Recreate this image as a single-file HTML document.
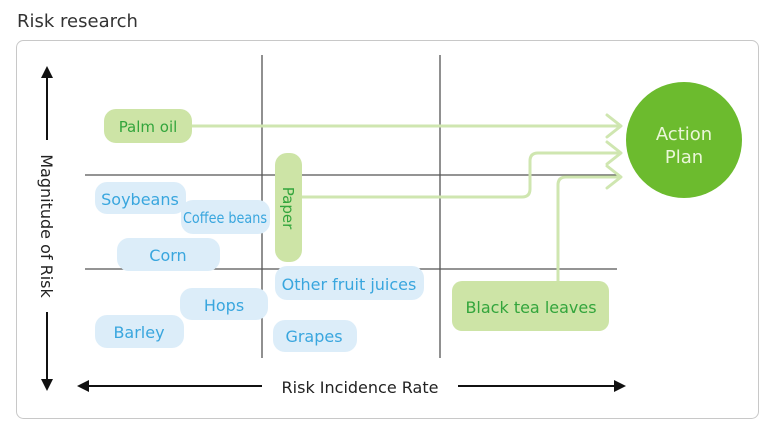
<!DOCTYPE html>
<html><head><style>body{margin:0;background:#fff}svg{display:block}</style></head><body>
<svg width="779" height="440" viewBox="0 0 779 440" xmlns="http://www.w3.org/2000/svg" font-family="'DejaVu Sans','Liberation Sans',sans-serif">
<text x="17" y="27" font-size="18" fill="#333">Risk research</text>
<rect x="16.5" y="40.5" width="742" height="378" rx="7" fill="#fff" stroke="#c8c8c8"/>
<g stroke="#555" stroke-width="1.3">
<line x1="262" y1="55" x2="262" y2="358"/><line x1="440" y1="55" x2="440" y2="358"/>
<line x1="85" y1="175" x2="617" y2="175"/><line x1="85" y1="269" x2="617" y2="269"/>
</g>
<g stroke="#cfe6b0" stroke-width="3" fill="none" stroke-linecap="round" stroke-linejoin="round">
<path d="M190 126H620"/><path d="M607 115L621 126L607 137"/>
<path d="M300 197H522Q530 197 530 189V161Q530 153 538 153H620"/><path d="M607 142L621 153L607 164"/>
<path d="M558 282V185Q558 177 566 177H620"/><path d="M607 166L621 177L607 188"/>
</g>
<circle cx="684" cy="140" r="58" fill="#6cbb2e"/>
<text x="684" y="140" font-size="18" fill="#eaf6d8" text-anchor="middle">Action</text>
<text x="684" y="163" font-size="18" fill="#eaf6d8" text-anchor="middle">Plan</text>
<g fill="#cde4a6">
<rect x="104" y="109" width="88" height="34" rx="12"/>
<rect x="275" y="153" width="27" height="109" rx="12"/>
<rect x="452" y="281" width="157" height="50" rx="10"/>
</g>
<g fill="#33a53c">
<text x="148" y="132" font-size="15" text-anchor="middle">Palm oil</text>
<text x="531" y="313" font-size="16" text-anchor="middle">Black tea leaves</text>
<text transform="translate(283 208) rotate(90)" font-size="15" text-anchor="middle">Paper</text>
</g>
<g fill="#dcedf9">
<rect x="95" y="182" width="91" height="32" rx="12"/>
<rect x="181" y="200" width="89" height="34" rx="12"/>
<rect x="117" y="238" width="103" height="33" rx="12"/>
<rect x="275" y="266" width="149" height="34" rx="12"/>
<rect x="180" y="288" width="88" height="32" rx="12"/>
<rect x="95" y="315" width="89" height="33" rx="12"/>
<rect x="273" y="320" width="84" height="32" rx="12"/>
</g>
<g fill="#39a6de" font-size="16" text-anchor="middle">
<text x="140" y="205">Soybeans</text>
<text x="225" y="223" font-size="15" textLength="84" lengthAdjust="spacingAndGlyphs">Coffee beans</text>
<text x="168" y="261">Corn</text>
<text x="349" y="290">Other fruit juices</text>
<text x="224" y="311">Hops</text>
<text x="139" y="338">Barley</text>
<text x="314" y="342">Grapes</text>
</g>
<g stroke="#111" stroke-width="2">
<line x1="47" y1="75" x2="47" y2="140"/><line x1="47" y1="312" x2="47" y2="382"/>
<line x1="86" y1="386" x2="262" y2="386"/><line x1="458" y1="386" x2="617" y2="386"/>
</g>
<g fill="#111">
<path d="M47 66L41 78H53Z"/><path d="M47 391L41 379H53Z"/>
<path d="M77 386L89 380V392Z"/><path d="M626 386L614 380V392Z"/>
</g>
<text transform="translate(41 226) rotate(90)" font-size="16" fill="#222" text-anchor="middle">Magnitude of Risk</text>
<text x="360" y="393" font-size="16" fill="#222" text-anchor="middle">Risk Incidence Rate</text>
</svg>
</body></html>
